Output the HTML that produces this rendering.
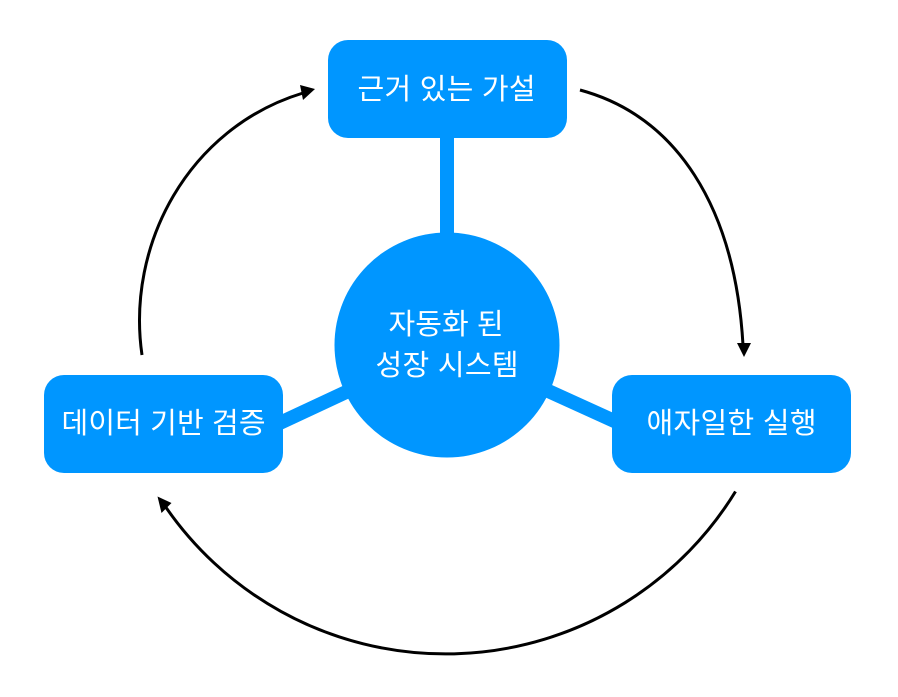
<!DOCTYPE html>
<html lang="ko">
<head>
<meta charset="utf-8">
<style>
html,body{margin:0;padding:0;background:#fff;width:898px;height:697px;overflow:hidden}
svg{display:block}
text{font-family:"Liberation Sans","Noto Sans CJK KR",sans-serif;font-size:29px;fill:#fff;text-anchor:middle}
</style>
</head>
<body>
<svg width="898" height="697" viewBox="0 0 898 697" xmlns="http://www.w3.org/2000/svg">
<rect width="898" height="697" fill="#fff"/>
<g stroke="#0096ff" stroke-width="14">
<line x1="447" y1="345" x2="447" y2="130"/>
<line x1="447" y1="345" x2="262" y2="431.300"/>
<line x1="447" y1="345" x2="633" y2="429.500"/>
</g>
<circle cx="447" cy="345" r="112.500" fill="#0096ff"/>
<rect x="328" y="40" width="239" height="98" rx="20" fill="#0096ff"/>
<rect x="44" y="375" width="239" height="98" rx="20" fill="#0096ff"/>
<rect x="612" y="375" width="239" height="98" rx="20" fill="#0096ff"/>
<text x="446.500" y="99" textLength="178" lengthAdjust="spacing">근거 있는 가설</text>
<text x="163.500" y="433" textLength="204" lengthAdjust="spacing">데이터 기반 검증</text>
<text x="731.500" y="433" textLength="170" lengthAdjust="spacing">애자일한 실행</text>
<text x="446" y="334" textLength="115" lengthAdjust="spacing">자동화 된</text>
<text x="447" y="375" textLength="143" lengthAdjust="spacing">성장 시스템</text>
<g fill="none" stroke="#000" stroke-width="3">
<path d="M580 90 C676 116 735 206 743 345"/>
<path d="M735.500 491.500 A340 340 0 0 1 165 506"/>
<path d="M142 355 C126 245 188 128 303 93"/>
</g>
<g fill="#000">
<polygon points="744,357 737,343 751,343"/>
<polygon points="157.500,496.500 171.500,503 161.500,513"/>
<polygon points="315,89 303,100 300,85"/>
</g>
</svg>
</body>
</html>
